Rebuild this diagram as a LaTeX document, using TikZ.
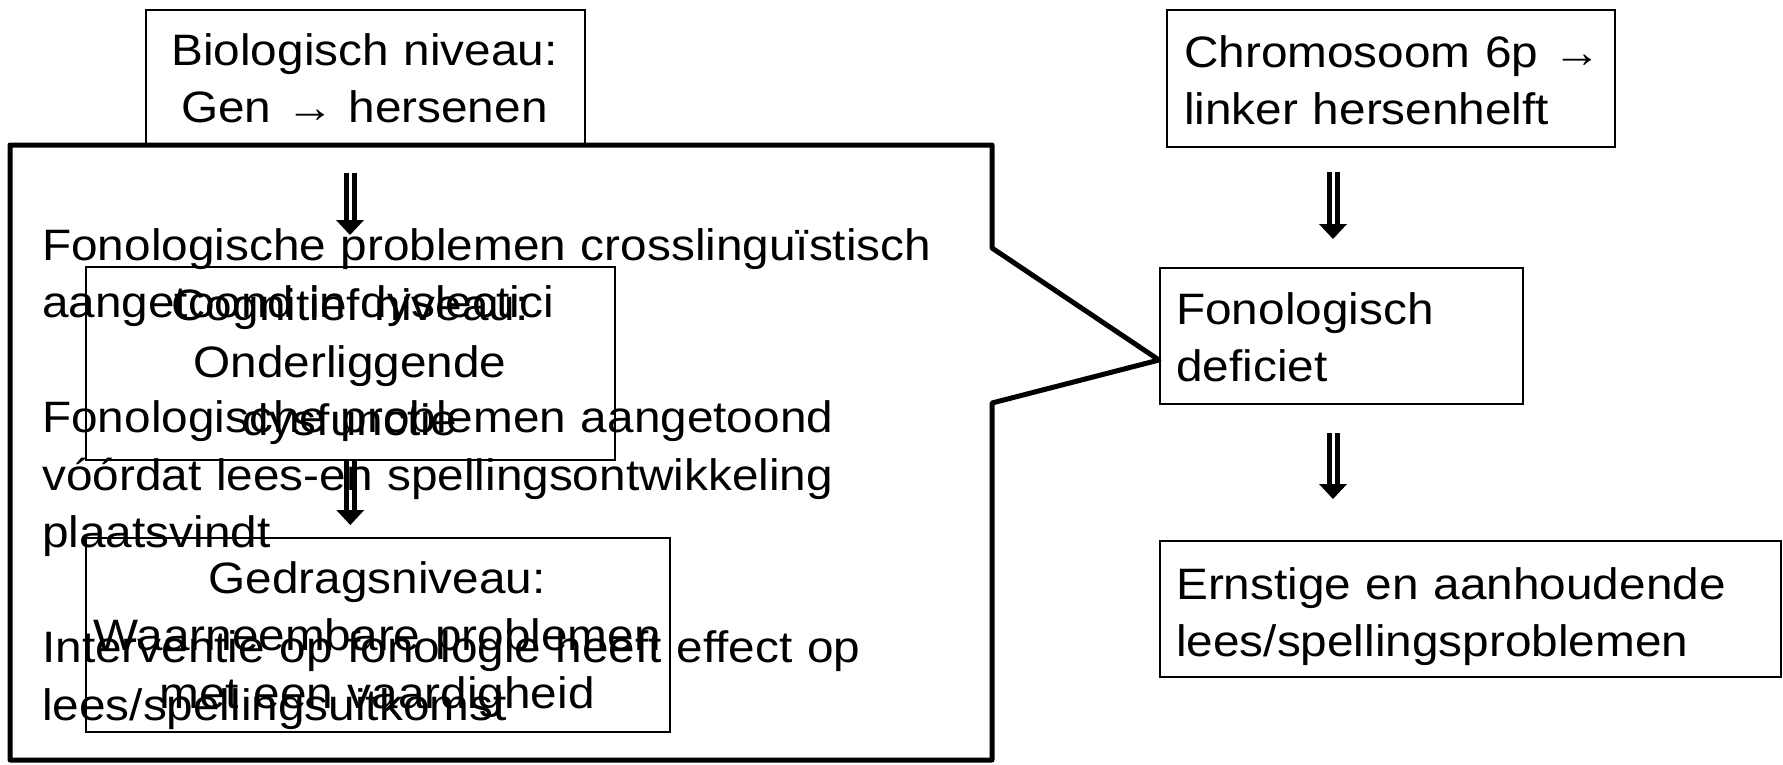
\documentclass[tikz,border=0pt]{standalone}
\usepackage{fontspec}
\setmainfont{Liberation Sans}[FakeStretch=1.085]
\usetikzlibrary{arrows.meta}
\newcommand{\txtfont}{\fontsize{44}{57.5}\selectfont}
\tikzset{
  box/.style={draw, line width=1.6pt, inner sep=0pt, anchor=north west},
  txt/.style={font=\txtfont, inner sep=0pt, text width=#1},
  txt/.default=600pt,
  callout/.style={draw, fill=white, line width=5pt, line join=round},
  dnarrow/.style={double, double distance=3pt, line width=5pt,
    -{Triangle[length=15pt 0 0, width=28pt 0 0, line width=0pt 0 0]}}
}
\begin{document}
\begin{tikzpicture}[x=1pt, y=-1pt]
	\useasboundingbox (0,0) rectangle (1783,764);
	% left column
	\node[box, minimum width=439pt, minimum height=136pt] (bio) at (145,9) {};
	\node[txt=430pt, align=center, anchor=base] (biotxt) at (364.5,65) {Biologisch niveau:\\Gen → hersenen};
	\coordinate (tip) at ([yshift=-25pt]1159,335);
	\draw[callout] (10,145) -- (992,145) -- (992,248) -- (tip) -- (992,403) -- (992,760) -- (10,760) -- cycle;
	\node[box, minimum width=529pt, minimum height=193pt] (cogn) at (85,266) {};
	\node[box, minimum width=584pt, minimum height=194pt] (gedr) at (85,537) {};
	\coordinate (l1top) at (350,173);
	\coordinate (l1end) at (350,235);
	\draw[dnarrow] (l1top) -- (l1end);
	\draw[dnarrow, shorten >=12pt] (cogn.south) -- (cogn.south |- gedr.north);
	\node[txt=520pt, align=center, anchor=base] (cogntxt) at (350,320) {Cognitief niveau:\\Onderliggende\\dysfunctie};
	\node[txt=580pt, align=center, anchor=base] (gedrtxt) at (377,593) {Gedragsniveau:\\Waarneembare problemen\\met een vaardigheid};
	\node[txt=940pt, align=left, anchor=base west] (calltxt) at (42,260) {Fonologische problemen crosslinguïstisch\\aangetoond in dyslectici\\[57.5pt]Fonologische problemen aangetoond\\vóórdat lees-en spellingsontwikkeling\\plaatsvindt\\[57.5pt]Interventie op fonologie heeft effect op\\lees/spellingsuitkomst};
	% right column
	\node[box, minimum width=448pt, minimum height=137pt] (chrom) at (1166,9) {};
	\node[box, minimum width=363pt, minimum height=136pt] (fondef) at (1159,267) {};
	\node[box, minimum width=621pt, minimum height=136pt] (ernst) at (1159,540) {};
	\node[txt=440pt, align=left, anchor=base west] (chromtxt) at (1184,67) {Chromosoom 6p →\\linker hersenhelft};
	\node[txt=340pt, align=left, anchor=base west] (fondeftxt) at (1176,324) {Fonologisch\\deficiet};
	\node[txt=600pt, align=left, anchor=base west] (ernsttxt) at (1176,599) {Ernstige en aanhoudende\\lees/spellingsproblemen};
	\coordinate (r1top) at (1333,172);
	\coordinate (r1end) at (1333,239);
	\coordinate (r2top) at (1333,433);
	\coordinate (r2end) at (1333,499);
	\draw[dnarrow] (r1top) -- (r1end);
	\draw[dnarrow] (r2top) -- (r2end);
\end{tikzpicture}
\end{document}
